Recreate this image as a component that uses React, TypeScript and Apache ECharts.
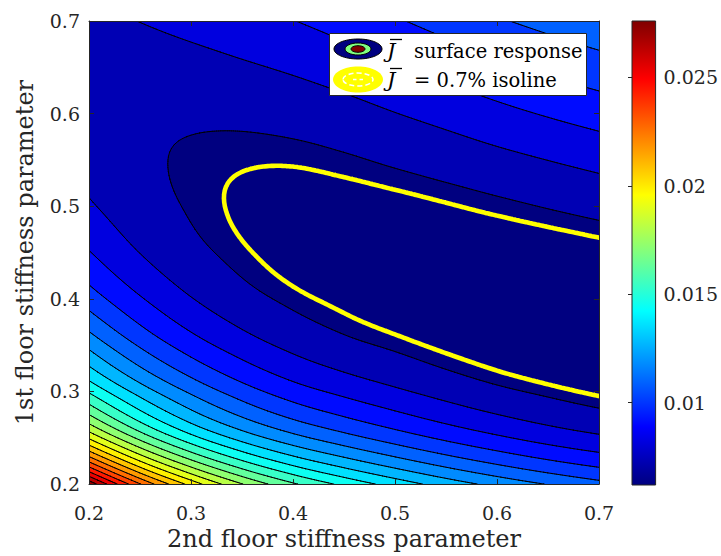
import React, { useEffect, useRef } from "react";
import * as echarts from "echarts";

// Stiffness parameter grid: columns follow the 2nd floor, rows the 1st floor
const stiffness2nd = [0.2, 0.25, 0.3, 0.35, 0.4, 0.45, 0.5, 0.55, 0.6, 0.65, 0.7];
const stiffness1st = [0.2, 0.25, 0.3, 0.35, 0.4, 0.45, 0.5, 0.55, 0.6, 0.65, 0.7];

// J-bar surface response, one row per 1st floor stiffness value
const jAt1st020 = [0.0278, 0.02356, 0.02047, 0.018137, 0.016433, 0.015168, 0.014117, 0.013194, 0.012414, 0.011753, 0.01118];
const jAt1st025 = [0.01977, 0.01693, 0.014814, 0.013264, 0.012106, 0.011235, 0.010486, 0.009819, 0.009246, 0.00875, 0.008357];
const jAt1st030 = [0.01529, 0.01323, 0.01164, 0.010422, 0.009512, 0.008876, 0.00835, 0.007875, 0.007469, 0.007159, 0.006899];
const jAt1st035 = [0.01247, 0.010793, 0.009541, 0.008632, 0.00797, 0.007506, 0.007178, 0.006872, 0.006639, 0.006482, 0.006373];
const jAt1st040 = [0.010465, 0.009188, 0.008242, 0.007587, 0.007143, 0.006851, 0.006631, 0.006466, 0.006373, 0.006343, 0.006339];
const jAt1st045 = [0.009148, 0.008184, 0.007531, 0.007077, 0.006763, 0.006584, 0.006507, 0.006505, 0.00655, 0.00665, 0.00678];
const jAt1st050 = [0.008307, 0.00767, 0.007227, 0.006909, 0.006744, 0.006734, 0.006811, 0.006954, 0.00714, 0.007343, 0.007559];
const jAt1st055 = [0.007883, 0.007465, 0.007196, 0.007067, 0.007062, 0.007203, 0.007422, 0.007672, 0.007945, 0.00821, 0.008479];
const jAt1st060 = [0.007712, 0.007491, 0.007445, 0.007485, 0.007636, 0.007873, 0.008179, 0.0085, 0.00885, 0.009178, 0.009492];
const jAt1st065 = [0.00773, 0.007765, 0.007893, 0.008087, 0.008326, 0.008637, 0.00901, 0.009413, 0.00981, 0.010188, 0.010528];
const jAt1st070 = [0.007973, 0.008216, 0.00849, 0.008768, 0.00908, 0.009464, 0.009906, 0.010353, 0.0108, 0.011178, 0.011526];

const surfaceRows = [
  jAt1st020, jAt1st025, jAt1st030, jAt1st035, jAt1st040, jAt1st045,
  jAt1st050, jAt1st055, jAt1st060, jAt1st065, jAt1st070,
];

// Filled contour levels and the highlighted isoline
const contourLevels = [
  0.0073, 0.0082, 0.0091, 0.01, 0.0109, 0.0118, 0.0127, 0.0136, 0.0145, 0.0154, 0.0163, 0.0172,
  0.0181, 0.019, 0.0199, 0.0208, 0.0217, 0.0226, 0.0235, 0.0244, 0.0253, 0.0262, 0.0271,
];
const isolineLevel = 0.007;

// Colour scale limits and colorbar ticks
const colorRange = [0.0062, 0.0276];
const colorbarTicks = [0.01, 0.015, 0.02, 0.025];

const FONT = "DejaVu Serif";
const INK = "#262626";

function jet(f: number): string {
  const c = (v: number) => Math.round(255 * Math.max(0, Math.min(1, v)));
  const r = c(Math.min(4 * f - 1.5, -4 * f + 4.5));
  const g = c(Math.min(4 * f - 0.5, -4 * f + 3.5));
  const b = c(Math.min(4 * f + 0.5, -4 * f + 2.5));
  return `rgb(${r},${g},${b})`;
}
const colorOf = (v: number) => jet((v - colorRange[0]) / (colorRange[1] - colorRange[0]));

const NX = stiffness2nd.length;
const NY = stiffness1st.length;

// grid node with quadratic extension past the edges
function nodeValue(i: number, j: number): number {
  if (i < 0) return 3 * nodeValue(0, j) - 3 * nodeValue(1, j) + nodeValue(2, j);
  if (i >= NX) return 3 * nodeValue(NX - 1, j) - 3 * nodeValue(NX - 2, j) + nodeValue(NX - 3, j);
  if (j < 0) return 3 * nodeValue(i, 0) - 3 * nodeValue(i, 1) + nodeValue(i, 2);
  if (j >= NY) return 3 * nodeValue(i, NY - 1) - 3 * nodeValue(i, NY - 2) + nodeValue(i, NY - 3);
  return surfaceRows[j][i];
}

function catmullRom(p0: number, p1: number, p2: number, p3: number, t: number): number {
  return 0.5 * (2 * p1 + (-p0 + p2) * t + (2 * p0 - 5 * p1 + 4 * p2 - p3) * t * t +
    (-p0 + 3 * p1 - 3 * p2 + p3) * t * t * t);
}

// bicubic resampling of the surface, u and v in grid-index units
function surfaceAt(u: number, v: number): number {
  const i = Math.min(Math.floor(u), NX - 2);
  const j = Math.min(Math.floor(v), NY - 2);
  const tx = u - i;
  const ty = v - j;
  const col: number[] = [];
  for (let dj = -1; dj <= 2; dj++) {
    col.push(catmullRom(nodeValue(i - 1, j + dj), nodeValue(i, j + dj), nodeValue(i + 1, j + dj), nodeValue(i + 2, j + dj), tx));
  }
  return catmullRom(col[0], col[1], col[2], col[3], ty);
}

type Pt = [number, number, number];

function crossing(p: Pt, q: Pt, level: number): [number, number] {
  // always evaluated from the same end so shared edges meet exactly
  let a = p;
  let b = q;
  if (a[0] > b[0] || (a[0] === b[0] && a[1] > b[1])) {
    a = q;
    b = p;
  }
  const t = (level - a[2]) / (b[2] - a[2]);
  return [a[0] + (b[0] - a[0]) * t, a[1] + (b[1] - a[1]) * t];
}

const fmt = (n: number) => (Math.round(n * 100) / 100).toString();

function clipAbove(tri: Pt[], level: number, out: string[]) {
  const poly: [number, number][] = [];
  for (let k = 0; k < 3; k++) {
    const p = tri[k];
    const q = tri[(k + 1) % 3];
    const pin = p[2] >= level;
    const qin = q[2] >= level;
    if (pin) poly.push([p[0], p[1]]);
    if (pin !== qin) poly.push(crossing(p, q, level));
  }
  if (poly.length < 3) return;
  out.push("M" + poly.map((pt) => fmt(pt[0]) + " " + fmt(pt[1])).join("L") + "Z");
}

function levelSegment(tri: Pt[], level: number, out: string[]) {
  const pts: [number, number][] = [];
  for (let k = 0; k < 3; k++) {
    const p = tri[k];
    const q = tri[(k + 1) % 3];
    if ((p[2] >= level) !== (q[2] >= level)) pts.push(crossing(p, q, level));
  }
  if (pts.length === 2) {
    out.push(`M${fmt(pts[0][0])} ${fmt(pts[0][1])}L${fmt(pts[1][0])} ${fmt(pts[1][1])}`);
  }
}

function renderSurface(_params: any, api: any) {
  const SUB = 12;
  const nxF = (NX - 1) * SUB + 1;
  const nyF = (NY - 1) * SUB + 1;
  const x0 = stiffness2nd[0];
  const x1 = stiffness2nd[NX - 1];
  const y0 = stiffness1st[0];
  const y1 = stiffness1st[NY - 1];
  const px: number[] = [];
  const py: number[] = [];
  for (let a = 0; a < nxF; a++) px.push(api.coord([x0 + ((x1 - x0) * a) / (nxF - 1), y0])[0]);
  for (let b = 0; b < nyF; b++) py.push(api.coord([x0, y0 + ((y1 - y0) * b) / (nyF - 1)])[1]);
  const val = new Float64Array(nxF * nyF);
  for (let b = 0; b < nyF; b++) {
    for (let a = 0; a < nxF; a++) val[b * nxF + a] = surfaceAt(a / SUB, b / SUB);
  }

  const rect = (a0: number, a1: number, b: number) =>
    `M${fmt(px[a0])} ${fmt(py[b])}L${fmt(px[a1])} ${fmt(py[b])}L${fmt(px[a1])} ${fmt(py[b + 1])}L${fmt(px[a0])} ${fmt(py[b + 1])}Z`;

  const bands: string[][] = contourLevels.map(() => []);
  const lines: string[] = [];
  const iso: string[] = [];

  for (let b = 0; b < nyF - 1; b++) {
    const runStart = contourLevels.map(() => -1);
    for (let a = 0; a < nxF - 1; a++) {
      const p00: Pt = [px[a], py[b], val[b * nxF + a]];
      const p10: Pt = [px[a + 1], py[b], val[b * nxF + a + 1]];
      const p11: Pt = [px[a + 1], py[b + 1], val[(b + 1) * nxF + a + 1]];
      const p01: Pt = [px[a], py[b + 1], val[(b + 1) * nxF + a]];
      const t1: Pt[] = [p00, p10, p11];
      const t2: Pt[] = [p00, p11, p01];
      const vmin = Math.min(p00[2], p10[2], p11[2], p01[2]);
      const vmax = Math.max(p00[2], p10[2], p11[2], p01[2]);
      for (let k = 0; k < contourLevels.length; k++) {
        const L = contourLevels[k];
        if (vmin >= L) {
          if (runStart[k] < 0) runStart[k] = a;
          continue;
        }
        if (runStart[k] >= 0) {
          bands[k].push(rect(runStart[k], a, b));
          runStart[k] = -1;
        }
        if (vmax >= L) {
          clipAbove(t1, L, bands[k]);
          clipAbove(t2, L, bands[k]);
          levelSegment(t1, L, lines);
          levelSegment(t2, L, lines);
        }
      }
      if (vmin < isolineLevel && vmax >= isolineLevel) {
        levelSegment(t1, isolineLevel, iso);
        levelSegment(t2, isolineLevel, iso);
      }
    }
    for (let k = 0; k < contourLevels.length; k++) {
      if (runStart[k] >= 0) bands[k].push(rect(runStart[k], nxF - 1, b));
    }
  }

  const children: any[] = [
    {
      type: "rect",
      shape: { x: px[0], y: py[nyF - 1], width: px[nxF - 1] - px[0], height: py[0] - py[nyF - 1] },
      style: { fill: colorOf(colorRange[0]) },
    },
  ];
  bands.forEach((d, k) => {
    if (d.length) {
      children.push({ type: "path", shape: { pathData: d.join("") }, style: { fill: colorOf(contourLevels[k]), stroke: "none" } });
    }
  });
  if (lines.length) {
    children.push({ type: "path", shape: { pathData: lines.join("") }, style: { fill: "none", stroke: "#000", lineWidth: 1, lineCap: "round" } });
  }
  if (iso.length) {
    children.push({ type: "path", shape: { pathData: iso.join("") }, style: { fill: "none", stroke: "#ffff00", lineWidth: 4.6, lineCap: "round", lineJoin: "round" } });
  }
  return { type: "group", children };
}

function renderColorbar(_params: any, api: any) {
  const p0 = api.coord([0, colorRange[0]]);
  const p1 = api.coord([1, colorRange[1]]);
  const stops = [];
  for (let s = 0; s <= 32; s++) stops.push({ offset: s / 32, color: jet(s / 32) });
  return {
    type: "rect",
    shape: { x: p0[0], y: p1[1], width: p1[0] - p0[0], height: p0[1] - p1[1] },
    style: { fill: new echarts.graphic.LinearGradient(0, 1, 0, 0, stops), stroke: INK, lineWidth: 1 },
  };
}

const tickLabel = { fontFamily: FONT, fontSize: 19, color: INK };

// legend drawn above the contour plot
function legendElements(): any[] {
  const txt = (x: number, y: number, text: string, italic: boolean) => ({
    type: "text",
    style: { x, y, text, fontFamily: FONT, fontSize: italic ? 21 : 19.5, fontStyle: italic ? "italic" : "normal", fill: "#000", verticalAlign: "middle" },
  });
  const els: any[] = [
    { type: "rect", shape: { x: 329.5, y: 33.5, width: 257, height: 62 }, style: { fill: "#fff", stroke: INK, lineWidth: 1 } },
    { type: "ellipse", shape: { cx: 358, cy: 49, rx: 24, ry: 10 }, style: { fill: "#000080", stroke: "#000", lineWidth: 1 } },
    { type: "ellipse", shape: { cx: 358, cy: 49, rx: 13, ry: 6 }, style: { fill: "#80ff80", stroke: "#000", lineWidth: 1 } },
    { type: "ellipse", shape: { cx: 358, cy: 49, rx: 7, ry: 3.3 }, style: { fill: "#800000", stroke: "#000", lineWidth: 1 } },
    { type: "ellipse", shape: { cx: 358, cy: 79.5, rx: 25, ry: 13 }, style: { fill: "#ffff00", stroke: "none" } },
    { type: "ellipse", shape: { cx: 358, cy: 79.5, rx: 15, ry: 6.5 }, style: { fill: "none", stroke: "#fff", lineWidth: 1.5, lineDash: [5, 3] } },
    { type: "line", shape: { x1: 353, y1: 79.5, x2: 356.5, y2: 79.5 }, style: { stroke: "#fff", lineWidth: 1.5 } },
    { type: "line", shape: { x1: 359.5, y1: 79.5, x2: 363, y2: 79.5 }, style: { stroke: "#fff", lineWidth: 1.5 } },
    txt(387, 51, "J", true),
    { type: "line", shape: { x1: 390, y1: 39.5, x2: 402, y2: 39.5 }, style: { stroke: "#000", lineWidth: 1.3 } },
    txt(414, 51, "surface response", false),
    txt(387, 80, "J", true),
    { type: "line", shape: { x1: 390, y1: 68.5, x2: 402, y2: 68.5 }, style: { stroke: "#000", lineWidth: 1.3 } },
    txt(414, 80, "= 0.7% isoline", false),
  ];
  return els.map((el, i) => ({ ...el, z: 100 + i, silent: true }));
}

function buildOption(): any {
  const frameTick = { show: true, inside: true, length: 5, lineStyle: { color: INK, width: 1 } };
  const frameLine = { show: true, lineStyle: { color: INK, width: 1 } };
  return {
    animation: false,
    backgroundColor: "#ffffff",
    grid: [
      { left: 89, top: 21, width: 510, height: 464, containLabel: false },
      { left: 632, top: 21, width: 26, height: 464, containLabel: false },
    ],
    xAxis: [
      {
        gridIndex: 0, type: "value", min: 0.2, max: 0.7, interval: 0.1, position: "bottom", z: 10,
        axisLine: frameLine, axisTick: frameTick, splitLine: { show: false },
        axisLabel: { ...tickLabel, margin: 19, formatter: (v: number) => v.toFixed(1) },
        name: "2nd floor stiffness parameter", nameLocation: "middle", nameGap: 40,
        nameTextStyle: { fontFamily: FONT, fontSize: 24, color: INK },
      },
      {
        gridIndex: 0, type: "value", min: 0.2, max: 0.7, interval: 0.1, position: "top", z: 10,
        axisLine: frameLine, axisTick: frameTick, splitLine: { show: false }, axisLabel: { show: false },
      },
      { gridIndex: 1, type: "value", min: 0, max: 1, show: false },
    ],
    yAxis: [
      {
        gridIndex: 0, type: "value", min: 0.2, max: 0.7, interval: 0.1, position: "left", z: 10,
        axisLine: frameLine, axisTick: frameTick, splitLine: { show: false },
        axisLabel: { ...tickLabel, margin: 9, formatter: (v: number) => v.toFixed(1) },
        name: "1st floor stiffness parameter", nameLocation: "middle", nameGap: 52, nameRotate: 90,
        nameTextStyle: { fontFamily: FONT, fontSize: 24, color: INK },
      },
      {
        gridIndex: 0, type: "value", min: 0.2, max: 0.7, interval: 0.1, position: "right", z: 10,
        axisLine: frameLine, axisTick: frameTick, splitLine: { show: false }, axisLabel: { show: false },
      },
      {
        gridIndex: 1, type: "value", min: colorRange[0], max: colorRange[1], position: "right", z: 10,
        axisLine: { show: false }, splitLine: { show: false },
        axisTick: { show: true, inside: true, length: 4, lineStyle: { color: INK }, customValues: colorbarTicks },
        axisLabel: { ...tickLabel, margin: 8, customValues: colorbarTicks, formatter: (v: number) => String(+v.toFixed(3)) },
      },
    ],
    series: [
      {
        type: "custom", xAxisIndex: 0, yAxisIndex: 0, clip: true, silent: true,
        data: [[stiffness2nd[0], stiffness1st[0]]],
        renderItem: renderSurface,
      },
      {
        type: "custom", xAxisIndex: 2, yAxisIndex: 2, silent: true,
        data: [[0, colorRange[0]]],
        renderItem: renderColorbar,
      },
    ],
    graphic: legendElements(),
  };
}

export default function App() {
  const ref = useRef<HTMLDivElement>(null);
  useEffect(() => {
    if (!ref.current) return;
    const chart = echarts.init(ref.current, undefined, { renderer: "svg" });
    chart.setOption(buildOption());
    return () => chart.dispose();
  }, []);
  return (
    <div
      ref={ref}
      style={{ position: "fixed", left: 0, top: 0, width: 721, height: 556, background: "#fff" }}
    />
  );
}
